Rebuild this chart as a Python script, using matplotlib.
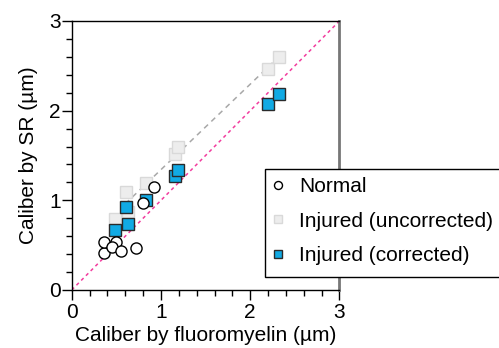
import numpy as np
import matplotlib
matplotlib.use("Agg")
import matplotlib.pyplot as plt
from matplotlib.patches import Rectangle
from matplotlib.ticker import MultipleLocator

plt.rcParams['font.family'] = ['Liberation Sans', 'DejaVu Sans']

# Caliber measurements (µm): fluoromyelin (x) vs SR (y)
normal_x = [0.366, 0.366, 0.494, 0.449, 0.553, 0.725, 0.797, 0.927]
normal_y = [0.416, 0.539, 0.539, 0.476, 0.438, 0.465, 0.966, 1.152]

injured_x = [0.489, 0.609, 0.635, 0.834, 1.159, 1.193, 2.195, 2.327]
uncorrected_y = [0.792, 1.093, 0.873, 1.193, 1.513, 1.591, 2.460, 2.594]
corrected_y = [0.669, 0.922, 0.736, 1.003, 1.274, 1.338, 2.077, 2.188]

fit_range = (0.60, 2.38)
axis_ticks = [0, 1, 2, 3]

FS = 15
W, H = 499, 348
fig = plt.figure(figsize=(W / 100, H / 100), dpi=100)
ax = fig.add_axes([0.1437, 0.1667, 0.5366, 0.7730])

# identity line
ax.plot([0, 3], [0, 3], color='#F23C9E', lw=1.1, ls=(0, (2.2, 2.2)), zorder=1)

# linear fit of uncorrected injured values
slope, intercept = np.polyfit(injured_x, uncorrected_y, 1)
fx = np.array(fit_range)
ax.plot(fx, slope * fx + intercept, color='#A8A8A8', lw=1.1,
        ls=(0, (3.5, 3)), zorder=1)

ax.plot(injured_x, uncorrected_y, 's', ms=8.3, mfc='#EDEDED', mec='#D9D9D9',
        mew=1.0, zorder=2, label='Injured (uncorrected)')
ax.plot(injured_x, corrected_y, 's', ms=8.3, mfc='#11AAE4', mec='#2A2A2A',
        mew=1.0, zorder=3, label='Injured (corrected)')
ax.plot(normal_x, normal_y, 'o', ms=8, mfc='white', mec='black',
        mew=1.0, zorder=4, label='Normal')

ax.set_xlim(0, 3)
ax.set_ylim(0, 3)
ax.set_xticks(axis_ticks)
ax.set_yticks(axis_ticks)
ax.xaxis.set_minor_locator(MultipleLocator(0.2))
ax.yaxis.set_minor_locator(MultipleLocator(0.2))
ax.tick_params(which='major', direction='out', length=7, width=1,
               labelsize=FS, colors='black')
ax.tick_params(which='minor', direction='out', length=4, width=1)
ax.tick_params(axis='y', pad=1)
ax.tick_params(axis='x', pad=2.5)

for side in ['left', 'bottom', 'top']:
    ax.spines[side].set_linewidth(1.0)
    ax.spines[side].set_color('black')
ax.spines['right'].set_linewidth(2.0)
ax.spines['right'].set_color('#777777')

ax.set_xlabel('Caliber by fluoromyelin (µm)', fontsize=FS, labelpad=2.5)
ax.set_ylabel('Caliber by SR (µm)', fontsize=FS, labelpad=8)

# legend box, drawn as its own frame
box = Rectangle((265 / W, 1 - 277 / H), 245 / W, 108 / H,
                transform=fig.transFigure, facecolor='white',
                edgecolor='black', lw=1.0, zorder=9, clip_on=False)
fig.add_artist(box)

handles, labels = ax.get_legend_handles_labels()
order = [2, 0, 1]
leg = fig.legend([handles[i] for i in order], [labels[i] for i in order],
                 loc='center left', bbox_to_anchor=(270 / W, 1 - 221 / H),
                 fontsize=FS, markerscale=0.72, frameon=False,
                 handlelength=0.8, handletextpad=0.6, labelspacing=0.74,
                 borderpad=0, borderaxespad=0)
leg.set_zorder(10)

fig.savefig('out.png', dpi=100)
